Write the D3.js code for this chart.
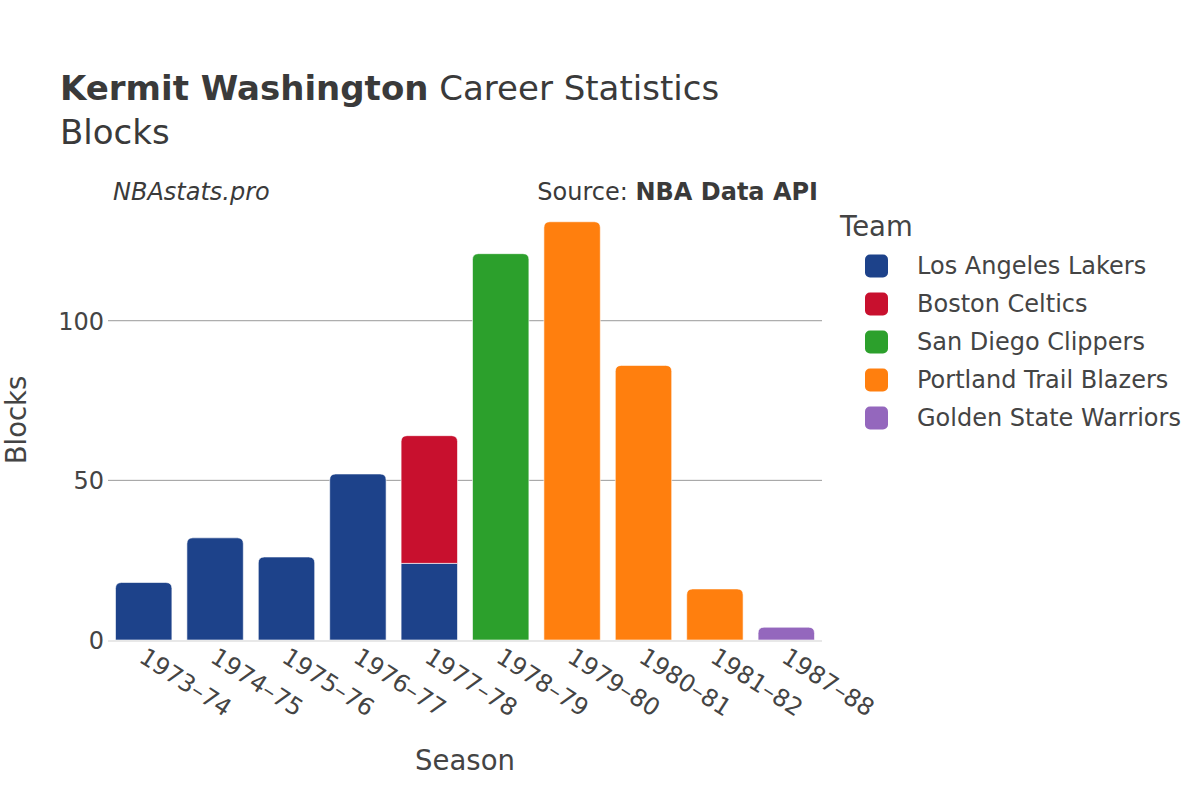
<!DOCTYPE html>
<html><head><meta charset="utf-8">
<script src="https://cdn.jsdelivr.net/npm/d3@7"></script>
<style>body{margin:0;background:#fff}svg{font-family:"DejaVu Sans",sans-serif}</style>
</head><body><svg id="c" width="1200" height="800"></svg>
<script>
const seasons = ["1973–74","1974–75","1975–76","1976–77","1977–78","1978–79","1979–80","1980–81","1981–82","1987–88"];
const teams = ["Los Angeles Lakers","Boston Celtics","San Diego Clippers","Portland Trail Blazers","Golden State Warriors"];
const teamColors = ["#1d428a","#c8102e","#2ca02c","#ff7f0e","#9467bd"];
const lakers   = [18,32,26,52,24,0,0,0,0,0];
const celtics  = [0,0,0,0,40,0,0,0,0,0];
const clippers = [0,0,0,0,0,121,0,0,0,0];
const blazers  = [0,0,0,0,0,0,131,86,16,0];
const warriors = [0,0,0,0,0,0,0,0,0,4];
const yTicks = [0,50,100];

const series = [lakers,celtics,clippers,blazers,warriors];
const svg = d3.select("#c");
const pLeft=108,pRight=822,pTop=193,pBottom=640;
const x = d3.scaleBand().domain(seasons).range([pLeft,pRight]).paddingInner(0.21).paddingOuter(0.105);
const y = d3.scaleLinear().domain([0,140]).range([pBottom,pTop]);

// grid
svg.append("g").selectAll("line").data(yTicks.filter(d=>d>0)).join("line")
  .attr("x1",pLeft).attr("x2",pRight).attr("y1",d=>y(d)).attr("y2",d=>y(d))
  .attr("stroke","#9a9a9a").attr("stroke-width",1);

// stacked data
const rows = seasons.map((s,i)=>{const o={season:s};teams.forEach((t,j)=>o[t]=series[j][i]);return o;});
const stack = d3.stack().keys(teams)(rows);
const topKey = seasons.map((s,i)=>{let k=-1;series.forEach((a,j)=>{if(a[i]>0)k=j;});return k;});
function barPath(x0,w,y0,y1,r){
  r=Math.min(r,(y0-y1),w/2);
  if(r<=0) return `M${x0},${y0}V${y1}H${x0+w}V${y0}Z`;
  return `M${x0},${y0}V${y1+r}Q${x0},${y1} ${x0+r},${y1}H${x0+w-r}Q${x0+w},${y1} ${x0+w},${y1+r}V${y0}Z`;
}
stack.forEach((layer,j)=>{
  svg.append("g").selectAll("path").data(layer.map((d,i)=>({d,i})).filter(o=>o.d[1]-o.d[0]>0)).join("path")
    .attr("d",o=>barPath(x(seasons[o.i]),x.bandwidth(),y(o.d[0]),y(o.d[1]),topKey[o.i]===j?6:0))
    .attr("fill",teamColors[j]).attr("stroke","#fff").attr("stroke-width",0.6);
});

// zero line
svg.append("line").attr("x1",pLeft).attr("x2",pRight).attr("y1",y(0)+1).attr("y2",y(0)+1)
  .attr("stroke","#e8e8e8").attr("stroke-width",2);

// y axis
const yAxis = d3.axisLeft(y).tickValues(yTicks).tickSize(0).tickPadding(0);
const yg = svg.append("g").attr("transform",`translate(${pLeft-4},0)`).call(yAxis);
yg.select(".domain").remove();
yg.selectAll("text").attr("font-size",24).attr("fill","#444").attr("dy","0.35em").attr("font-family","DejaVu Sans");

// x axis
const xAxis = d3.axisBottom(x).tickSize(0).tickPadding(0);
const xg = svg.append("g").attr("transform",`translate(0,${pBottom})`).call(xAxis);
xg.select(".domain").remove();
xg.selectAll("text").attr("font-size",24).attr("fill","#444").attr("font-family","DejaVu Sans")
  .attr("text-anchor","start").attr("dy",0).attr("y",0)
  .attr("transform","translate(-6,21) rotate(33)");

// titles
const t = svg.append("text").attr("x",60).attr("y",100).attr("font-size",34).attr("fill","#3a3a3a");
t.append("tspan").attr("font-weight","bold").text("Kermit Washington");
t.append("tspan").text(" Career Statistics");
svg.append("text").attr("x",60).attr("y",144).attr("font-size",34).attr("fill","#3a3a3a").text("Blocks");
svg.append("text").attr("x",113).attr("y",200).attr("font-size",24).attr("font-style","italic").attr("fill","#3a3a3a").text("NBAstats.pro");
const s = svg.append("text").attr("x",818).attr("y",200).attr("font-size",24).attr("text-anchor","end").attr("fill","#3a3a3a");
s.append("tspan").text("Source: ");
s.append("tspan").attr("font-weight","bold").text("NBA Data API");

svg.append("text").attr("transform","translate(26,420) rotate(-90)").attr("text-anchor","middle")
  .attr("font-size",27.5).attr("fill","#444").text("Blocks");
svg.append("text").attr("x",465).attr("y",770).attr("text-anchor","middle")
  .attr("font-size",27.5).attr("fill","#444").text("Season");

// legend
svg.append("text").attr("x",840).attr("y",236).attr("font-size",27.5).attr("fill","#444").text("Team");
const lg = svg.append("g").selectAll("g").data(teams).join("g")
  .attr("transform",(d,i)=>`translate(865,${266+i*38})`);
lg.append("rect").attr("x",0).attr("y",-11.5).attr("width",23).attr("height",23).attr("rx",5)
  .attr("fill",(d,i)=>teamColors[i]);
lg.append("text").attr("x",52).attr("dy","0.35em").attr("font-size",24).attr("fill","#444").text(d=>d);
</script></body></html>
